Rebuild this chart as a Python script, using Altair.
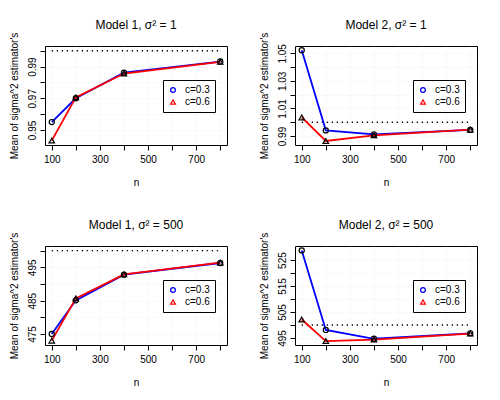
import altair as alt
import pandas as pd

# ---- data ----
n_values = [100, 200, 400, 800]
series_names = ["c=0.3", "c=0.6"]
panel_titles = ["Model 1, σ² = 1", "Model 2, σ² = 1", "Model 1, σ² = 500", "Model 2, σ² = 500"]
true_values = [1, 1, 500, 500]

m1_s1_c03 = [0.9550, 0.9700, 0.9862, 0.9932]
m1_s1_c06 = [0.9433, 0.9706, 0.9856, 0.9930]
m2_s1_c03 = [1.0522, 0.9941, 0.9912, 0.9944]
m2_s1_c06 = [1.0035, 0.9864, 0.9905, 0.9946]
m1_s500_c03 = [475.0, 485.1, 492.8, 496.3]
m1_s500_c06 = [473.0, 485.7, 492.9, 496.4]
m2_s500_c03 = [528.7, 498.1, 494.7, 496.8]
m2_s500_c06 = [502.1, 493.8, 494.4, 496.7]

panel_series = [
    (m1_s1_c03, m1_s1_c06),
    (m2_s1_c03, m2_s1_c06),
    (m1_s500_c03, m1_s500_c06),
    (m2_s500_c03, m2_s500_c06),
]

x_ticks = [100, 200, 300, 400, 500, 600, 700, 800]
x_labels = ["100", "300", "500", "700"]

y_ticks = [
    [0.95, 0.96, 0.97, 0.98, 0.99, 1.00],
    [0.99, 1.00, 1.01, 1.02, 1.03, 1.04, 1.05],
    [475, 480, 485, 490, 495, 500],
    [495, 500, 505, 510, 515, 520, 525],
]
y_labels = [
    ["0.95", "0.97", "0.99"],
    ["0.99", "1.01", "1.03", "1.05"],
    ["475", "485", "495"],
    ["495", "505", "515", "525"],
]
y_formats = [".2f", ".2f", "d", "d"]
y_domains = [
    [0.9405, 1.0030],
    [0.9835, 1.0553],
    [471.7, 501.4],
    [492.3, 530.4],
]
x_domain = [72, 828]

FONT = "Liberation Sans"
W, H = 182, 99


def js_list(items):
    return "[" + ",".join("'" + s + "'" for s in items) + "]"


def make_panel(i):
    c03, c06 = panel_series[i]
    df = pd.DataFrame({
        "n": n_values + n_values,
        "value": list(c03) + list(c06),
        "series": [series_names[0]] * len(n_values) + [series_names[1]] * len(n_values),
    })
    ref = pd.DataFrame({"n": [n_values[0]], "n2": [n_values[-1]], "value": [true_values[i]]})

    x = alt.X(
        "n:Q",
        scale=alt.Scale(domain=x_domain, nice=False, zero=False),
        axis=alt.Axis(
            values=x_ticks,
            labelExpr=f"indexof({js_list(x_labels)}, datum.label) >= 0 ? datum.label : ''",
            title="n",
        ),
    )
    y = alt.Y(
        "value:Q",
        scale=alt.Scale(domain=y_domains[i], nice=False, zero=False),
        axis=alt.Axis(
            values=y_ticks[i],
            format=y_formats[i],
            labelExpr=f"indexof({js_list(y_labels[i])}, datum.label) >= 0 ? datum.label : ''",
            title="Mean of sigma^2 estimator's",
        ),
    )

    rule = alt.Chart(ref).mark_rule(
        color="black", strokeDash=[1.3, 3.7], strokeWidth=1.3
    ).encode(x=x, x2="n2:Q", y=y)

    base = alt.Chart(df)
    blue_line = base.transform_filter(alt.datum.series == series_names[0]).mark_line(
        color="#0000FF", strokeWidth=1.8
    ).encode(x=x, y=y)
    red_line = base.transform_filter(alt.datum.series == series_names[1]).mark_line(
        color="#FF0000", strokeWidth=1.8
    ).encode(x=x, y=y)
    circles = base.transform_filter(alt.datum.series == series_names[0]).mark_point(
        shape="circle", filled=False, color="black", size=26, strokeWidth=1.2, opacity=1
    ).encode(x=x, y=y)
    triangles = base.transform_filter(alt.datum.series == series_names[1]).mark_point(
        shape="triangle-up", filled=False, color="black", size=30, strokeWidth=1.2, opacity=1
    ).encode(x=x, y=y)

    leg = dict(
        orient="none", legendX=118, legendY=34, title=None,
        strokeColor="black", fillColor="white", padding=5, cornerRadius=0,
        labelFontSize=10, labelFont=FONT, labelColor="black", labelOffset=7,
        symbolSize=22, symbolStrokeWidth=1.3, rowPadding=2, symbolOpacity=1,
        symbolFillColor="transparent",
    )
    legend_pts = base.mark_point(filled=False, size=22, opacity=0).encode(
        x=x, y=y,
        color=alt.Color("series:N", scale=alt.Scale(domain=series_names, range=["#0000FF", "#FF0000"]),
                        legend=alt.Legend(**leg)),
        shape=alt.Shape("series:N", scale=alt.Scale(domain=series_names, range=["circle", "triangle-up"]),
                        legend=alt.Legend(**leg)),
    )

    return alt.layer(rule, blue_line, red_line, circles, triangles, legend_pts).properties(
        width=W, height=H,
        title=alt.TitleParams(
            text=panel_titles[i], fontSize=12, fontWeight="normal", font=FONT,
            color="black", offset=0, anchor="middle", frame="group",
        ),
    )


panels = [make_panel(i) for i in range(4)]

chart = alt.concat(
    *panels, columns=2, spacing={"row": 101, "column": 68}, bounds="flush"
).resolve_scale(
    color="independent", shape="independent"
).resolve_legend(
    color="independent", shape="independent"
).properties(
    padding={"left": 0, "top": 10, "right": 0, "bottom": 0},
    background="white",
).configure_view(
    stroke="black", strokeWidth=1
).configure_axis(
    domain=False,
    tickColor="black", tickSize=5, tickWidth=1,
    labelFont=FONT, labelFontSize=10, labelColor="black",
    titleFont=FONT, titleFontSize=10, titleFontWeight="normal", titleColor="black",
    grid=True, gridColor="#d3d3d3", gridDash=[1, 3], gridWidth=1, gridOpacity=0.5,
    labelOverlap=False, labelFlush=False,
).configure_axisX(
    labelPadding=4, titlePadding=13,
).configure_axisY(
    labelAngle=270, labelAlign="center", labelBaseline="bottom", labelPadding=3, titlePadding=8,
)

chart.save("out.html", embed_options={"renderer": "svg", "actions": False})
